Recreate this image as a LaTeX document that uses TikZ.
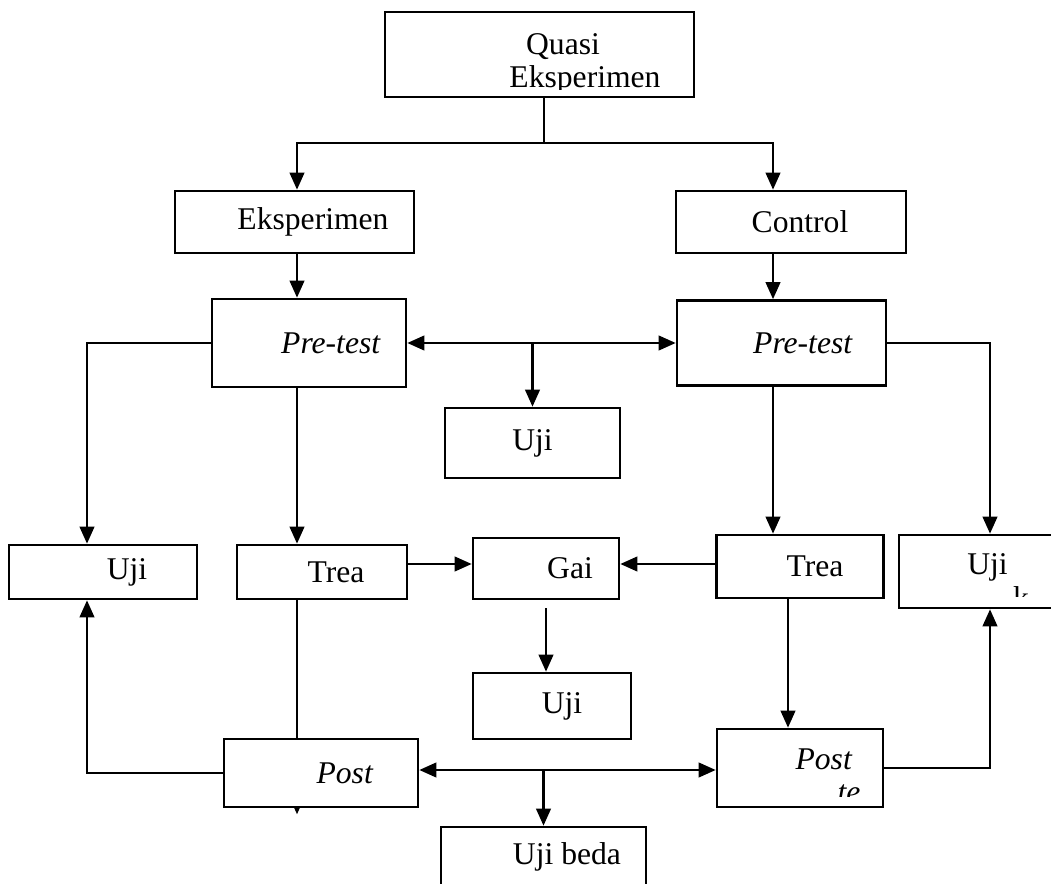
\documentclass[tikz,border=0pt]{standalone}
\usepackage{fontspec}
\setmainfont{Liberation Serif}
\usetikzlibrary{arrows.meta}
\pgfdeclarelayer{bg}
\pgfsetlayers{bg,main}

\begin{document}
\begin{tikzpicture}[x=0.02cm,y=-0.02cm,
  box/.style={draw, fill=white, line width=1.5pt, inner sep=0pt, font=\fontsize{18}{20.5}\selectfont},
  txt/.style={inner sep=0pt, anchor=base, font=\fontsize{18}{20.5}\selectfont},
  ln/.style={line width=1.4pt},
  arr/.style={line width=1.4pt, -{Triangle[length=0.34cm,width=0.29cm]}},
  arrs/.style={line width=1.4pt, {Triangle[length=0.34cm,width=0.29cm]}-{Triangle[length=0.34cm,width=0.29cm]}}]
\clip (0,0) rectangle (1051,884);
\node[box, minimum width=6.18cm, minimum height=1.70cm, path picture={
  \clip (path picture bounding box.north west) rectangle ([shift={(0,-7)}]path picture bounding box.south east);
  \node[txt] (quasiT) at ([shift={(23.5,0.5)}]path picture bounding box.center) {Quasi};
  \node[txt] (quasiB) at ([shift={(45.5,33.5)}]path picture bounding box.center) {Eksperimen};
}] (quasi) at (539.5,54.5) {};
\node[box, minimum width=4.78cm, minimum height=1.24cm] (eksp) at (294.5,222) {\hspace*{0.74cm}Eksperimen};
\node[box, minimum width=4.60cm, minimum height=1.24cm] (ctrl) at (791,222) {\hspace*{0.36cm}Control};
\node[box, minimum width=3.88cm, minimum height=1.76cm] (preA) at (309,343) {\hspace*{0.88cm}\textit{Pre-test}};
\node[box, minimum width=4.18cm, minimum height=1.70cm] (preB) at (781.5,343) {\hspace*{0.86cm}\textit{Pre-test}};
\node[box, minimum width=3.50cm, minimum height=1.40cm] (ujiA) at (532.5,443) {Uji};
\node[box, minimum width=3.76cm, minimum height=1.08cm] (ujiL) at (103,572) {\hspace*{0.96cm}Uji};
\node[box, minimum width=3.40cm, minimum height=1.08cm] (treaA) at (322,572) {\hspace*{0.56cm}Trea};
\node[box, minimum width=2.92cm, minimum height=1.22cm] (gai) at (546,568.5) {\hspace*{0.96cm}Gai};
\node[box, minimum width=3.34cm, minimum height=1.26cm] (treaB) at (800,566.5) {\hspace*{0.60cm}Trea};
\node[box, minimum width=3.24cm, minimum height=1.46cm, path picture={
  \clip (path picture bounding box.north west) rectangle ([shift={(0,-11)}]path picture bounding box.south east);
  \node[txt] (ujiRT) at ([shift={(7.5,3.5)}]path picture bounding box.center) {Uji};
  \node[txt] (ujiRB) at ([shift={(41,37)}]path picture bounding box.center) {k};
}] (ujiR) at (980,571.5) {};
\node[box, minimum width=3.16cm, minimum height=1.32cm] (ujiM) at (552,706) {\hspace*{0.40cm}Uji};
\node[box, minimum width=3.88cm, minimum height=1.36cm] (postA) at (321,773) {\hspace*{0.96cm}\textit{Post}};
\node[box, minimum width=3.32cm, minimum height=1.56cm, path picture={
  \clip (path picture bounding box.north west) rectangle ([shift={(0,-10)}]path picture bounding box.south east);
  \node[txt] (postBT) at ([shift={(24,1)}]path picture bounding box.center) {\textit{Post}};
  \node[txt] (postBB) at ([shift={(49,34)}]path picture bounding box.center) {\textit{te}};
}] (postB) at (800,768) {};
\node[box, minimum width=4.10cm, minimum height=1.20cm] (ujiBeda) at (543.5,857) {\hspace*{0.94cm}Uji beda};

\coordinate (split) at (544,143);
\coordinate (colL) at (297,0);
\coordinate (colR) at (773,0);
\coordinate (colT) at (788,0);
\coordinate (colFL) at (87,0);
\coordinate (colFR) at (990,0);
\coordinate (rowG) at (0,564);
\coordinate (rowP) at (0,770);

\draw[ln] (quasi.south -| split) -- (split);
\draw[arr] (split) -| (colL |- eksp.north);
\draw[arr] (split) -| (colR |- ctrl.north);
\draw[arr] (colL |- eksp.south) -- (colL |- preA.north);
\draw[arr] (colR |- ctrl.south) -- (colR |- preB.north);
\draw[arrs] (preA.east) -- (preB.west);
\draw[arr] (ujiA.north |- preA.east) -- (ujiA.north);
\draw[arr] (preA.west) -| (colFL |- ujiL.north);
\draw[arr] (preB.east) -| (colFR |- ujiR.north);
\draw[arr] (colL |- preA.south) -- (colL |- treaA.north);
\draw[arr] (colR |- preB.south) -- (colR |- treaB.north);
\draw[arr] (rowG -| treaA.east) -- (rowG -| gai.west);
\draw[arr] (rowG -| treaB.west) -- (rowG -| gai.east);
\draw[arr, shorten <=0.16cm] (gai.south) -- (gai.south |- ujiM.north);
\begin{pgfonlayer}{bg}
\draw[arr] (colL |- treaA.south) -- ([yshift=-0.12cm]colL |- postA.south);
\end{pgfonlayer}
\draw[arr] (colT |- treaB.south) -- (colT |- postB.north);
\draw[arr] (postA.west) -| (colFL |- ujiL.south);
\draw[arr] (postB.east) -| (colFR |- ujiR.south);
\draw[arrs] (rowP -| postA.east) -- (rowP -| postB.west);
\draw[arr] (ujiBeda.north |- rowP) -- (ujiBeda.north);
\end{tikzpicture}
\end{document}
